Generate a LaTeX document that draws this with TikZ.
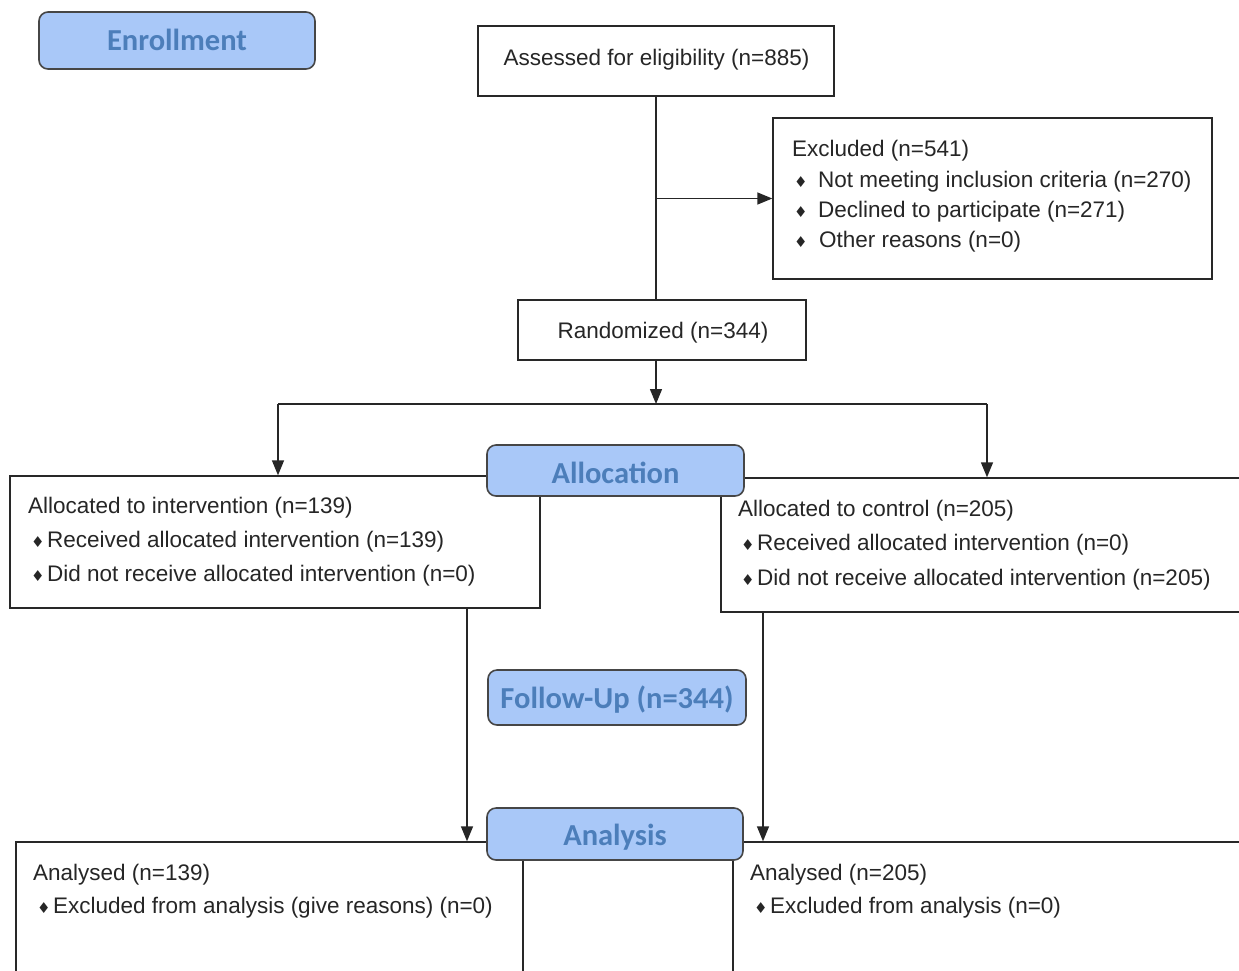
\documentclass[tikz,border=0pt]{standalone}
\usepackage{fontspec}
\setmainfont{Liberation Sans}
\newfontfamily\hdrfont{Carlito}
\newfontfamily\symfont{DejaVu Sans}
\usetikzlibrary{arrows.meta}
\definecolor{hdrfill}{RGB}{169,200,248}
\definecolor{hdrtext}{RGB}{76,126,186}
\definecolor{hdrline}{RGB}{70,70,70}
\definecolor{boxline}{RGB}{40,40,40}
\newcommand\bul{\makebox[16pt][l]{\symfont\fontsize{15}{15}\selectfont ♦}}
\tikzset{
  box/.style={draw=boxline, line width=1.4pt, fill=white, inner sep=0pt},
  hdr/.style={draw=hdrline, line width=1.6pt, fill=hdrfill, rounded corners=9pt, inner sep=0pt,
    text depth=6pt, font=\hdrfont\bfseries\fontsize{30.5}{31}\selectfont, text=hdrtext},
  txt/.style={anchor=base west, inner sep=0pt, font=\fontsize{22.5}{24}\selectfont, text=black!85},
  conn/.style={draw=black!85, line width=1.4pt},
  arr/.style={conn, -{Triangle[width=12pt,length=15pt]}}
}
\begin{document}
\begin{tikzpicture}[x=1pt,y=-1pt]
\path[use as bounding box, fill=white] (0,0) rectangle (1239,970);
\clip (0,0) rectangle (1239,970);

% boxes
\node[box, minimum width=356pt, minimum height=70pt] (assess) at (656,61) {};
\node[box, minimum width=439pt, minimum height=161pt] (excl) at (992.5,198.5) {};
\node[box, minimum width=288pt, minimum height=60pt] (rand) at (662,330) {};
\node[box, minimum width=530pt, minimum height=132pt] (intv) at (275,542) {};
\node[box, minimum width=539pt, minimum height=134pt] (ctrl) at (990.5,545) {};
\node[box, minimum width=507pt, minimum height=158pt] (anl) at (269.5,921) {};
\node[box, minimum width=527pt, minimum height=158pt] (anr) at (996.5,921) {};

% texts
\node[txt, anchor=base] (tassess) at (656.5,65) {Assessed for eligibility (n=885)};
\node[txt] (te0) at (792,156) {Excluded (n=541)};
\node[txt] (te1) at (794,187) {\bul\hspace{8pt}Not meeting inclusion criteria (n=270)};
\node[txt] (te2) at (794,217) {\bul\hspace{8pt}Declined to participate (n=271)};
\node[txt] (te3) at (794,247) {\bul\hspace{9pt}Other reasons (n=0)};
\node[txt, anchor=base] (trand) at (663,338) {Randomized (n=344)};
\node[txt] (ti0) at (28,513) {Allocated to intervention (n=139)};
\node[txt] (ti1) at (31,547) {\bul Received allocated intervention (n=139)};
\node[txt] (ti2) at (31,581) {\bul Did not receive allocated intervention (n=0)};
\node[txt] (tc0) at (738,516) {Allocated to control (n=205)};
\node[txt] (tc1) at (741,550) {\bul Received allocated intervention (n=0)};
\node[txt] (tc2) at (741,585) {\bul Did not receive allocated intervention (n=205)};
\node[txt] (tl0) at (33,880) {Analysed (n=139)};
\node[txt] (tl1) at (37,913) {\bul Excluded from analysis (give reasons) (n=0)};
\node[txt] (tr0) at (750,880) {Analysed (n=205)};
\node[txt] (tr1) at (754,913) {\bul Excluded from analysis (n=0)};

% connectors
\coordinate (split) at (656,404);
\coordinate (sl) at (278,404);
\coordinate (sr) at (987,404);
\path[conn] (assess.south) -- (assess.south |- rand.north);
\path[arr] (assess.south |- excl.west) -- (excl.west);
\path[arr] (split |- rand.south) -- (split);
\path[conn] (sl) -- (sr);
\path[arr] (sl) -- (sl |- intv.north);
\path[arr] (sr) -- (sr |- ctrl.north);
\path[arr] ([xshift=192pt]intv.south) -- ([xshift=192pt]intv.south |- anl.north);
\path[arr] ([xshift=-227.5pt]ctrl.south) -- ([xshift=-227.5pt]ctrl.south |- anr.north);

% headers
\node[hdr, text height=25pt, minimum width=276pt, minimum height=57pt] (enr) at (177,40.5) {Enrollment};
\node[hdr, text height=31pt, minimum width=257pt, minimum height=51pt] (alloc) at (615.5,470.5) {Allocation};
\node[hdr, text height=27pt, minimum width=258pt, minimum height=55pt] (fu) at (617,697.5) {Follow-Up (n=344)};
\node[hdr, text height=28pt, minimum width=256pt, minimum height=52pt] (ana) at (615,834) {Analysis};
\end{tikzpicture}
\end{document}
